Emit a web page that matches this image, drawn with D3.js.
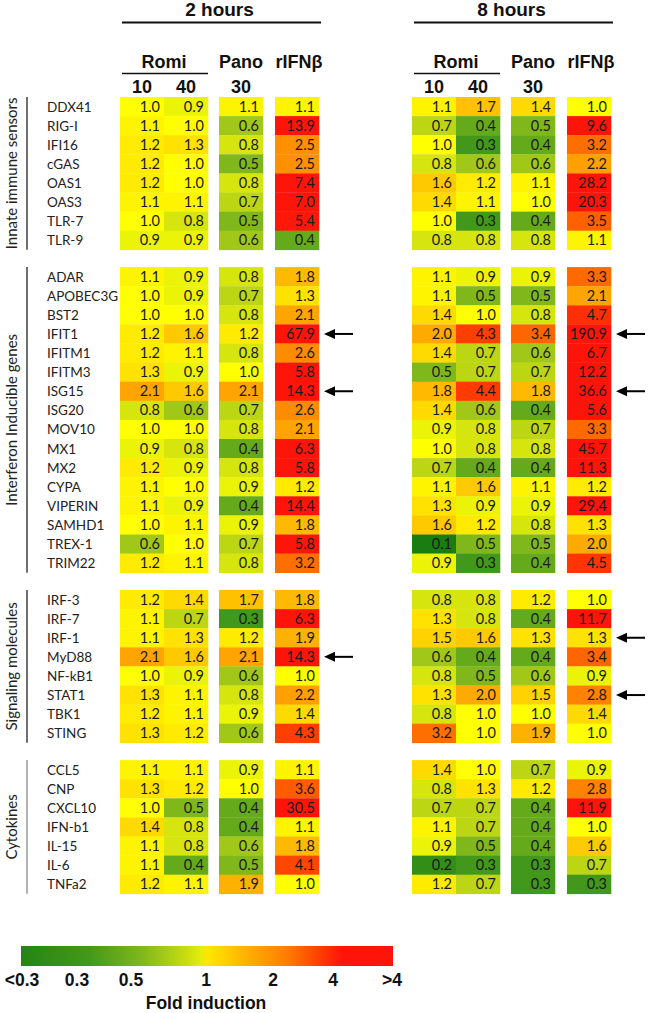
<!DOCTYPE html>
<html><head><meta charset="utf-8">
<script src="https://cdn.jsdelivr.net/npm/d3@7"></script>
<style>body{margin:0;background:#fff}svg{display:block}</style>
</head><body>
<svg id="chart" width="650" height="1013"></svg>
<script>
// ---------------- DATA ----------------
const times = ["2 hours", "8 hours"];
const conditions = ["Romi 10", "Romi 40", "Pano 30", "rIFNβ"];
const groupNames = ["Innate immune sensors", "Interferon Inducible genes", "Signaling molecules", "Cytokines"];

// each row: [2h Romi10, Romi40, Pano30, rIFNβ, 8h Romi10, Romi40, Pano30, rIFNβ]
const innateGenes = ["DDX41","RIG-I","IFI16","cGAS","OAS1","OAS3","TLR-7","TLR-9"];
const innateValues = [
  [1.0,0.9,1.1,1.1, 1.1,1.7,1.4,1.0],
  [1.1,1.0,0.6,13.9, 0.7,0.4,0.5,9.6],
  [1.2,1.3,0.8,2.5, 1.0,0.3,0.4,3.2],
  [1.2,1.0,0.5,2.5, 0.8,0.6,0.6,2.2],
  [1.2,1.0,0.8,7.4, 1.6,1.2,1.1,28.2],
  [1.1,1.1,0.7,7.0, 1.4,1.1,1.0,20.3],
  [1.0,0.8,0.5,5.4, 1.0,0.3,0.4,3.5],
  [0.9,0.9,0.6,0.4, 0.8,0.8,0.8,1.1]
];
const ifnGenes = ["ADAR","APOBEC3G","BST2","IFIT1","IFITM1","IFITM3","ISG15","ISG20","MOV10","MX1","MX2","CYPA","VIPERIN","SAMHD1","TREX-1","TRIM22"];
const ifnValues = [
  [1.1,0.9,0.8,1.8, 1.1,0.9,0.9,3.3],
  [1.0,0.9,0.7,1.3, 1.1,0.5,0.5,2.1],
  [1.0,1.0,0.8,2.1, 1.4,1.0,0.8,4.7],
  [1.2,1.6,1.2,67.9, 2.0,4.3,3.4,190.9],
  [1.2,1.1,0.8,2.6, 1.4,0.7,0.6,6.7],
  [1.3,0.9,1.0,5.8, 0.5,0.7,0.7,12.2],
  [2.1,1.6,2.1,14.3, 1.8,4.4,1.8,36.6],
  [0.8,0.6,0.7,2.6, 1.4,0.6,0.4,5.6],
  [1.0,1.0,0.8,2.1, 0.9,0.8,0.7,3.3],
  [0.9,0.8,0.4,6.3, 1.0,0.8,0.8,45.7],
  [1.2,0.9,0.8,5.8, 0.7,0.4,0.4,11.3],
  [1.1,1.0,0.9,1.2, 1.1,1.6,1.1,1.2],
  [1.1,0.9,0.4,14.4, 1.3,0.9,0.9,29.4],
  [1.0,1.1,0.9,1.8, 1.6,1.2,0.8,1.3],
  [0.6,1.0,0.7,5.8, 0.1,0.5,0.5,2.0],
  [1.2,1.1,0.8,3.2, 0.9,0.3,0.4,4.5]
];
const signalGenes = ["IRF-3","IRF-7","IRF-1","MyD88","NF-kB1","STAT1","TBK1","STING"];
const signalValues = [
  [1.2,1.4,1.7,1.8, 0.8,0.8,1.2,1.0],
  [1.1,0.7,0.3,6.3, 1.3,0.8,0.4,11.7],
  [1.1,1.3,1.2,1.9, 1.5,1.6,1.3,1.3],
  [2.1,1.6,2.1,14.3, 0.6,0.4,0.4,3.4],
  [1.0,0.9,0.6,1.0, 0.8,0.5,0.6,0.9],
  [1.3,1.1,0.8,2.2, 1.3,2.0,1.5,2.8],
  [1.2,1.1,0.9,1.4, 0.8,1.0,1.0,1.4],
  [1.3,1.2,0.6,4.3, 3.2,1.0,1.9,1.0]
];
const cytoGenes = ["CCL5","CNP","CXCL10","IFN-b1","IL-15","IL-6","TNFa2"];
const cytoValues = [
  [1.1,1.1,0.9,1.1, 1.4,1.0,0.7,0.9],
  [1.3,1.2,1.0,3.6, 0.8,1.3,1.2,2.8],
  [1.0,0.5,0.4,30.5, 0.7,0.7,0.4,11.9],
  [1.4,0.8,0.4,1.1, 1.1,0.7,0.4,1.0],
  [1.1,0.8,0.6,1.8, 0.9,0.5,0.4,1.6],
  [1.1,0.4,0.5,4.1, 0.2,0.3,0.3,0.7],
  [1.2,1.1,1.9,1.0, 1.2,0.7,0.3,0.3]
];
const arrows2h = ["IFIT1","ISG15","MyD88"];
const arrows8h = ["IFIT1","ISG15","IRF-1","STAT1"];

const legendLabels = ["<0.3","0.3","0.5","1","2","4",">4"];
const legendValues = [0.15,0.3,0.5,1,2,4,8];

// colour stops (fold induction -> colour)
const colorStopValues = [0.1,0.3,0.5,0.7,1.0,1.5,2.0,3.0,4.0,5.5];
const colorStopColors = ["#1a7d12","#42981a","#80b81c","#bcd614","#ffff00","#ffd200","#ffaa00","#ff7a00","#ff4a00","#ff140a"];

// ---------------- LAYOUT ----------------
const svg = d3.select("#chart");
const groups = [
  {name: groupNames[0], genes: innateGenes, values: innateValues},
  {name: groupNames[1], genes: ifnGenes, values: ifnValues},
  {name: groupNames[2], genes: signalGenes, values: signalValues},
  {name: groupNames[3], genes: cytoGenes, values: cytoValues}
];
const gapRows = 0.906;
const rows = [];
let idx = 0;
groups.forEach((g, gi) => {
  g.first = idx + gi * gapRows;
  g.genes.forEach((gene, i) => {
    rows.push({gene, group: gi, slot: idx + gi * gapRows, values: g.values[i]});
    idx++;
  });
  g.last = idx + gi * gapRows;
});
const totalSlots = idx + (groups.length - 1) * gapRows;
const y = d3.scaleLinear().domain([0, totalSlots]).range([97, 893.8]);

const cellW = 44;
const xPanel = d3.scaleOrdinal().domain(times).range([120, 412]);
const xCol = d3.scaleOrdinal().domain(conditions).range([0, cellW, 99, 155]);
const colX = (t, c) => xPanel(t) + xCol(c);

const logColor = d3.scaleLinear()
  .domain(colorStopValues.map(Math.log10))
  .range(colorStopColors)
  .interpolate(d3.interpolateRgb)
  .clamp(true);
const color = v => logColor(Math.log10(v));

const cellFont = "Lato, 'Open Sans', sans-serif";

// ---------------- CELLS ----------------
const cells = [];
rows.forEach(r => {
  times.forEach((t, ti) => {
    conditions.forEach((c, ci) => {
      cells.push({row: r, time: t, cond: c, v: r.values[ti * 4 + ci]});
    });
  });
});

svg.append("g").selectAll("rect").data(cells).join("rect")
  .attr("x", d => colX(d.time, d.cond))
  .attr("y", d => y(d.row.slot))
  .attr("width", cellW + 0.3)
  .attr("height", y(1) - y(0) + 0.3)
  .attr("fill", d => color(d.v));

svg.append("g").selectAll("text").data(cells).join("text")
  .attr("x", d => colX(d.time, d.cond) + cellW - 4)
  .attr("y", d => y(d.row.slot + 0.5) + 5)
  .attr("text-anchor", "end")
  .attr("font-family", cellFont)
  .attr("font-size", 14.5)
  .attr("fill", "#1a1a1a")
  .text(d => d.v.toFixed(1));

// gene labels
svg.append("g").selectAll("text").data(rows).join("text")
  .attr("x", 47)
  .attr("y", d => y(d.slot + 0.5) + 5)
  .attr("font-family", cellFont)
  .attr("font-size", 13.5)
  .attr("fill", "#222")
  .text(d => d.gene);

// group brackets and labels
const gg = svg.append("g");
groups.forEach((g, gi) => {
  gg.append("line")
    .attr("x1", 27).attr("x2", 27)
    .attr("y1", y(g.first)).attr("y2", y(g.last))
    .attr("stroke", gi === 3 ? "#888" : "#222")
    .attr("stroke-width", 1.3);
  gg.append("text")
    .attr("transform", `translate(17,${(y(g.first) + y(g.last)) / 2}) rotate(-90)`)
    .attr("text-anchor", "middle")
    .attr("font-family", cellFont)
    .attr("font-size", 15)
    .attr("fill", "#222")
    .text(g.name);
});

// ---------------- HEADERS ----------------
const hdrFont = "'Liberation Sans Narrow', 'Liberation Sans', Arial, sans-serif";
const hg = svg.append("g").attr("font-family", hdrFont).attr("font-weight", "bold").attr("fill", "#111");
times.forEach(t => {
  const x0 = colX(t, conditions[0]);
  const x1 = colX(t, conditions[3]) + cellW;
  hg.append("text").attr("x", (x0 + x1) / 2).attr("y", 16)
    .attr("text-anchor", "middle").attr("font-size", 19).text(t);
  hg.append("line").attr("x1", x0 + 2).attr("x2", x1 + 2).attr("y1", 22.5).attr("y2", 22.5)
    .attr("stroke", "#111").attr("stroke-width", 2);
  const r0 = colX(t, conditions[0]);
  const r1 = colX(t, conditions[1]) + cellW;
  hg.append("text").attr("x", (r0 + r1) / 2).attr("y", 68)
    .attr("text-anchor", "middle").attr("font-size", 18).text("Romi");
  hg.append("line").attr("x1", r0 + 2).attr("x2", r1).attr("y1", 73.5).attr("y2", 73.5)
    .attr("stroke", "#111").attr("stroke-width", 1.6);
  hg.append("text").attr("x", colX(t, conditions[2]) + cellW / 2).attr("y", 68)
    .attr("text-anchor", "middle").attr("font-size", 18).text("Pano");
  hg.append("text").attr("x", colX(t, conditions[3]) + cellW / 2 + 2).attr("y", 68)
    .attr("text-anchor", "middle").attr("font-size", 18).text("rIFNβ");
  ["10", "40", "30"].forEach((lab, i) => {
    hg.append("text").attr("x", colX(t, conditions[i]) + cellW / 2).attr("y", 93)
      .attr("text-anchor", "middle").attr("font-size", 18).text(lab);
  });
});

// ---------------- ARROWS ----------------
const ag = svg.append("g");
[[times[0], arrows2h], [times[1], arrows8h]].forEach(([t, list]) => {
  const tip = colX(t, conditions[3]) + cellW + 5;
  rows.filter(r => list.includes(r.gene)).forEach(r => {
    const cy = y(r.slot + 0.5);
    ag.append("line").attr("x1", tip + 8).attr("x2", tip + 29).attr("y1", cy).attr("y2", cy)
      .attr("stroke", "#000").attr("stroke-width", 2);
    ag.append("path").attr("d", `M${tip},${cy} L${tip + 11},${cy - 5} L${tip + 11},${cy + 5} Z`)
      .attr("fill", "#000");
  });
});

// ---------------- LEGEND ----------------
const lx = d3.scaleLinear()
  .domain(legendValues.map(Math.log10))
  .range([22, 77, 131, 206, 273, 333, 392]);
const defs = svg.append("defs");
const grad = defs.append("linearGradient").attr("id", "lg").attr("x1", "0%").attr("x2", "100%");
const barX0 = 21, barX1 = 393;
const sampleVals = d3.range(0, 61).map(i => {
  const lv = lx.invert(barX0 + (barX1 - barX0) * i / 60);
  return {off: i / 60, v: Math.pow(10, lv)};
});
grad.selectAll("stop").data(sampleVals).join("stop")
  .attr("offset", d => (d.off * 100) + "%")
  .attr("stop-color", d => color(Math.max(0.12, Math.min(6, d.v * (d.v > 1 ? 1.25 : 0.9)))));
svg.append("rect").attr("x", barX0).attr("y", 946).attr("width", barX1 - barX0).attr("height", 20)
  .attr("fill", "url(#lg)");
const legG = svg.append("g").attr("font-family", "'Liberation Sans', Arial, sans-serif")
  .attr("font-weight", "bold").attr("fill", "#111");
legG.selectAll("text").data(legendLabels).join("text")
  .attr("x", (d, i) => lx(Math.log10(legendValues[i])))
  .attr("y", 986)
  .attr("text-anchor", "middle")
  .attr("font-size", 17.5)
  .text(d => d);
legG.append("text").attr("x", lx(0)).attr("y", 1009).attr("text-anchor", "middle")
  .attr("font-size", 17.5).text("Fold induction");
</script>
</body></html>
